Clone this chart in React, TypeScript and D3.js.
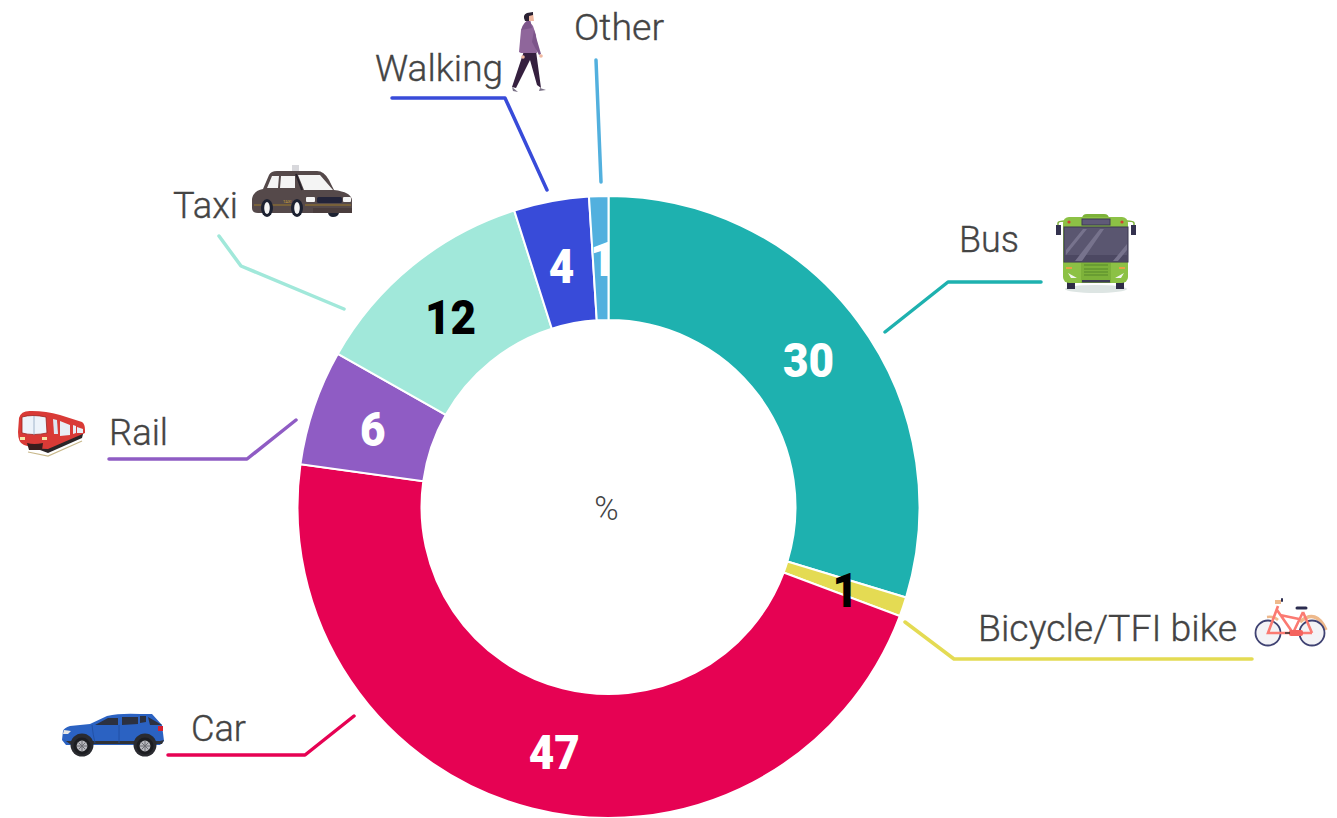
import React from "react";
import * as d3 from "d3";

const categories = ["Bus", "Bicycle/TFI bike", "Car", "Rail", "Taxi", "Walking", "Other"];
const shares = [29.7, 1.0, 46.5, 6.0, 11.9, 3.9, 1.0];
const valueLabels = ["30", "1", "47", "6", "12", "4", "1"];
const colors = ["#1EB1AF", "#E4DB53", "#E60253", "#8F5CC4", "#A1E8DA", "#384BD9", "#52B0DE"];
const valueLabelColors = ["#fff", "#000", "#fff", "#fff", "#000", "#fff", "#fff"];
const valueLabelNudges: [number, number][] = [[0, 1], [1, 2], [7, 3], [0, 1], [-1, 3], [-1, 3], [2, 0]];

const CX = 608.5, CY = 507, R_OUT = 311, R_IN = 187;
const FONT = "Roboto, 'Noto Sans', sans-serif";

const leaders: [number, number][][] = [
  [[885, 332], [948, 282], [1041, 282]],
  [[905, 622], [954, 659], [1252, 659]],
  [[354, 716], [305, 755], [168, 755]],
  [[296, 420], [247, 459], [109, 459]],
  [[344, 309], [241, 266], [219, 236]],
  [[547, 190], [505, 98], [392, 98]],
  [[601, 182], [596, 60]],
];
const nameAnchors = [
  { x: 959, y: 252, w: 60 },
  { x: 978, y: 641, w: 259 },
  { x: 191, y: 741, w: 55 },
  { x: 109, y: 445, w: 59 },
  { x: 173, y: 218, w: 65 },
  { x: 375, y: 81, w: 128 },
  { x: 574, y: 40, w: 90 },
];

const BusIcon = () => (
  <g>
    <ellipse cx={1096} cy={289} rx={31} ry={4} fill="#DDE5E3" />
    <rect x={1067} y={281} width={8} height={8} fill="#2E2C45" />
    <rect x={1116} y={281} width={8} height={8} fill="#2E2C45" />
    <path d="M1058 226 V223 Q1058 221 1066 221 M1134 226 V223 Q1134 221 1126 221" fill="none" stroke="#7FB23C" strokeWidth={1.5} />
    <rect x={1056} y={225} width={5} height={10} fill="#34324F" />
    <rect x={1131} y={225} width={5} height={10} fill="#34324F" />
    <path d="M1082 219 Q1082 214 1087 214 H1104 Q1109 214 1109 219 Z" fill="#7DB23A" />
    <rect x={1063} y={217} width={65} height={66} rx={6} fill="#8CC145" />
    <rect x={1082} y={219} width={28} height={6} fill="#5F5A78" stroke="#3C3A55" strokeWidth={1} />
    <circle cx={1069} cy={222} r={1.6} fill="#D1412F" />
    <circle cx={1122} cy={222} r={1.6} fill="#D1412F" />
    <rect x={1064} y={227} width={64} height={35} fill="#5A5670" stroke="#3B3950" strokeWidth={1} />
    <rect x={1065} y={255} width={62} height={6} fill="#4C4862" />
    <path d="M1066 250 L1083 229 H1087 L1066 255 Z M1075 261 L1100 229 H1104 L1082 261 Z M1113 261 L1127 244 V250 L1118 261 Z" fill="#77738D" />
    <rect x={1081} y={263} width={30} height={20} fill="#7DB23A" />
    <path d="M1084 265 H1108 M1084 269 H1108 M1084 272 H1108 M1084 275 H1108" stroke="#56872A" strokeWidth={1.2} />
    <rect x={1066} y={267} width={6} height={2} fill="#E8A243" />
    <rect x={1119} y={267} width={6} height={2} fill="#E8A243" />
    <path d="M1068 273 L1077 278 H1071 Z M1124 273 L1115 278 H1121 Z" fill="#F2F5EE" />
    <rect x={1082} y={280} width={28} height={2.5} fill="#3C3A55" />
  </g>
);

const BikeIcon = () => (
  <g fill="none">
    <path d="M1267 617 Q1274 616 1278 620" stroke="#EEB98C" strokeWidth={2.5} />
    <path d="M1300 622 Q1316 608 1326 630" stroke="#EEB98C" strokeWidth={3.5} />
    <circle cx={1268} cy={633} r={12.5} stroke="#3F4272" strokeWidth={1.8} fill="#F3F3F6" />
    <circle cx={1312} cy={633} r={12.5} stroke="#3F4272" strokeWidth={1.8} fill="#F3F3F6" />
    <path d="M1278 606 L1268 633 H1293 L1303 612 M1277 610 L1293 633 M1299 619 L1280 615 M1303 612 L1312 633 M1293 633 H1312" stroke="#FB7A72" strokeWidth={2.6} />
    <rect x={1289} y={630} width={14} height={6} rx={2} fill="#F4635E" />
    <path d="M1297 608 H1306" stroke="#2B2C4F" strokeWidth={3} strokeLinecap="round" />
    <path d="M1275 602 H1281" stroke="#EEB98C" strokeWidth={4} />
    <path d="M1281 600 H1283" stroke="#2B2C4F" strokeWidth={3.5} />
    <path d="M1285 633 H1290" stroke="#333" strokeWidth={1.5} />
  </g>
);

const CarWheel = ({ cx, cy }: { cx: number; cy: number }) => (
  <g>
    <circle cx={cx} cy={cy} r={8.5} fill="#1C1D21" />
    <circle cx={cx} cy={cy} r={5.4} fill="#B9B9BE" />
    <path d={`M${cx - 5} ${cy} H${cx + 5} M${cx} ${cy - 5} V${cy + 5} M${cx - 3.5} ${cy - 3.5} L${cx + 3.5} ${cy + 3.5} M${cx + 3.5} ${cy - 3.5} L${cx - 3.5} ${cy + 3.5}`} stroke="#6C6C72" strokeWidth={1} />
  </g>
);

const CarIcon = () => (
  <g>
    <path d="M63 731 Q64 728 70 726 L90 724 L107 716 Q120 713 140 714 H152 L162 725 L164 741 L160 745 H66 L62 740 Z" fill="#2B62C2" />
    <path d="M63 739 L70 744 H162 L164 740 L160 741 H66 Z" fill="#303237" />
    <circle cx={82} cy={745} r={11.5} fill="#2A2B30" />
    <circle cx={145} cy={745} r={11.5} fill="#2A2B30" />
    <path d="M95 725 L108 718 H118 L118 725 Z M122 725 L122 717 H138 L138 724 Z M140 723 L140 716 H146 L146 722 Z" fill="#2C3140" />
    <path d="M148 717 L162 725 L150 725 Z" fill="#2C3140" />
    <rect x={158} y={726} width={5} height={5} fill="#D42030" />
    <path d="M64 730 L71 731 L68 734 H63 Z" fill="#E6E6E6" />
    <path d="M119 725 V743 M92 725 Q93 735 95 743" stroke="#1F4D9E" strokeWidth={0.8} fill="none" />
    <CarWheel cx={82} cy={746} />
    <CarWheel cx={145} cy={746} />
  </g>
);

const TrainIcon = () => (
  <g>
    <path d="M28 452 L48 456 L82 441" stroke="#C9B98C" strokeWidth={1.2} fill="none" />
    <path d="M32 447 L48 453 L82 438 L84 430 L40 440 Z" fill="#2A2527" />
    <path d="M19 418 Q21 410 32 411 Q46 411 60 415 L82 422 Q85 424 85 430 V433 L48 449 Q35 449 24 445 Q18 443 18 432 Z" fill="#D93A36" />
    <path d="M22 417 Q32 414 46 417 L47 433 Q33 436 22 433 Z" fill="#EDF3FA" stroke="#9A2320" strokeWidth={0.8} />
    <path d="M34 416 V435" stroke="#8FA5BF" strokeWidth={0.8} />
    <path d="M53 419 L57 420 L58 434 L54 434 Z" fill="#DCE6F2" />
    <path d="M60 421 L70 425 V435 L60 436 Z M73 425 L76 426 V433 L73 434 Z M77 427 L83 429 V433 L77 433 Z" fill="#E8EEF5" />
    <path d="M27 443 Q34 445 43 443 L42 450 H29 Z" fill="#3A1D1D" />
    <rect x={20} y={437} width={5} height={3} fill="#F6E7A8" />
    <rect x={42} y={437} width={5} height={3} fill="#F6E7A8" />
  </g>
);

const TaxiIcon = () => (
  <g>
    <rect x={292} y={165} width={7} height={6} fill="#D8D8DC" />
    <path d="M252 199 Q253 191 263 189 L269 175 Q271 171 277 171 H317 Q324 171 329 180 L334 190 Q351 192 352 200 V210 Q352 213 348 213 H258 Q252 213 252 208 Z" fill="#55494A" />
    <path d="M267 188 L272 176 H279 L278 188 Z M281 176 H295 V188 H280 Z M298 175 H320 L333 190 H304 Z" fill="#F4F4F4" />
    <path d="M296 174 L302 190" stroke="#25202A" strokeWidth={2} />
    <rect x={317} y={197} width={25} height={6} rx={1.5} fill="#23243A" />
    <rect x={306} y={197} width={9} height={5} rx={1} fill="#F5F5F5" />
    <rect x={343} y={197} width={8} height={5} rx={1} fill="#F5F5F5" />
    <path d="M254 205 H298 M305 205 H351" stroke="#9C7B2A" strokeWidth={1} />
    <rect x={313} y={208} width={39} height={5} fill="#4A3D3D" />
    <text x={283} y={203} fontSize={4} fill="#C9A23A" fontFamily={FONT}>TAXI</text>
    <ellipse cx={267} cy={208} rx={6} ry={9} fill="#1C2131" />
    <ellipse cx={267} cy={208} rx={2.8} ry={6} fill="#F4F4F4" />
    <ellipse cx={297} cy={208} rx={6} ry={9} fill="#1C2131" />
    <ellipse cx={297} cy={208} rx={2.8} ry={6} fill="#F4F4F4" />
    <path d="M328 213 H339 Q338 217 333 217 Q329 217 328 213 Z" fill="#1C2131" />
  </g>
);

const WalkerIcon = () => (
  <g>
    <path d="M524 51 L512 87 L516 88 L530 60 L537 85 L541 88 L536 51 Z" fill="#35203F" />
    <path d="M512 87 L518 92 L513 91 Z M540 88 L546 90 L539 91 Z" fill="#7A7186" />
    <path d="M521 30 L529 21 L533 26 L536 35 L537 53 H521 L519 52 Z" fill="#8F669B" />
    <path d="M521 30 Q523 22 530 19 L532 28 Z" fill="#7C558A" />
    <path d="M534 30 L541 54 L539 55 L532 42 Z" fill="#7C558A" />
    <circle cx={541} cy={56} r={1.8} fill="#F0B8A0" />
    <circle cx={523} cy={57} r={1.8} fill="#F0B8A0" />
    <path d="M527 15 L533 13 L534 21 L529 21 Z" fill="#F0B8A0" />
    <path d="M525 21 Q522 15 527 13 L533 12 V15 L529 16 L529 21 Z" fill="#2A2233" />
  </g>
);

export default function App() {
  const pie = d3.pie<number>().sort(null).startAngle(0).endAngle(2 * Math.PI);
  const arcs = pie(shares);
  const arcGen = d3.arc<d3.PieArcDatum<number>>().innerRadius(R_IN).outerRadius(R_OUT);
  const lineGen = d3.line();
  return (
    <svg width={1337} height={818} style={{ position: "absolute", left: 0, top: 0, display: "block" }}>
      <g transform={`translate(${CX},${CY})`}>
        {arcs.map((a, i) => (
          <path key={categories[i]} d={arcGen(a) || ""} fill={colors[i]} stroke="#fff" strokeWidth={2} />
        ))}
        {arcs.map((a, i) => {
          const [x, y] = arcGen.centroid(a);
          const [nx, ny] = valueLabelNudges[i];
          return (
            <text key={i} transform={`translate(${x + nx},${y + ny}) scale(0.9,1)`} dy="0.36em" textAnchor="middle" fontFamily={FONT} fontWeight={900} fontSize={49} fill={valueLabelColors[i]}>
              {valueLabels[i]}
            </text>
          );
        })}
      </g>
      <text x={CX - 2} y={520} textAnchor="middle" fontFamily={FONT} fontSize={33} fontWeight={300} fill="#444">%</text>
      {leaders.map((pts, i) => (
        <path key={i} d={lineGen(pts) || ""} fill="none" stroke={colors[i]} strokeWidth={3.5} strokeLinecap="round" strokeLinejoin="round" />
      ))}
      {categories.map((c, i) => (
        <text key={c} x={nameAnchors[i].x} y={nameAnchors[i].y} textLength={nameAnchors[i].w} lengthAdjust="spacingAndGlyphs" fontFamily={FONT} fontSize={36} fontWeight={300} fill="#444" stroke="#444" strokeWidth={0.35}>
          {c}
        </text>
      ))}
      <BusIcon />
      <BikeIcon />
      <CarIcon />
      <TrainIcon />
      <TaxiIcon />
      <WalkerIcon />
    </svg>
  );
}
